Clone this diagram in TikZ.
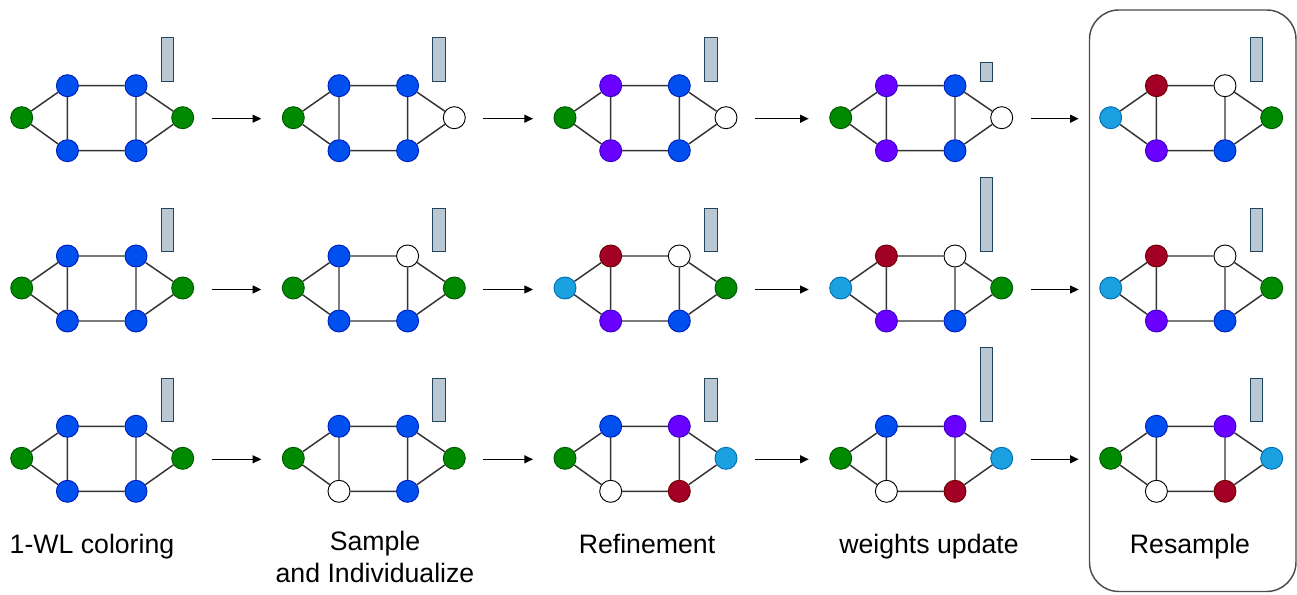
\documentclass[tikz,border=0pt]{standalone}
\usepackage{fontspec}
\setmainfont{Liberation Sans}
\usetikzlibrary{arrows.meta,calc}
\definecolor{fG}{HTML}{008A00}\definecolor{sG}{HTML}{005700}
\definecolor{fB}{HTML}{0050EF}\definecolor{sB}{HTML}{001DBC}
\definecolor{fP}{HTML}{6A00FF}\definecolor{sP}{HTML}{3700CC}
\definecolor{fR}{HTML}{A20025}\definecolor{sR}{HTML}{6F0000}
\definecolor{fC}{HTML}{1BA1E2}\definecolor{sC}{HTML}{006EAF}
\definecolor{fW}{HTML}{FFFFFF}\definecolor{sW}{HTML}{000000}
\definecolor{barfill}{HTML}{BAC8D3}\definecolor{barline}{HTML}{23445D}
\definecolor{edgecol}{HTML}{333333}\definecolor{boxcol}{HTML}{4D4D4D}
\newcommand\wlgraph[9]{%
\begin{scope}[shift={(#2)}]
\node[vert,fill=f#3,draw=s#3] (#1L) at (0,0) {};
\node[vert,fill=f#4,draw=s#4] (#1TL) at (45.7,-32) {};
\node[vert,fill=f#5,draw=s#5] (#1BL) at (45.7,33) {};
\node[vert,fill=f#6,draw=s#6] (#1TR) at (114.3,-32) {};
\node[vert,fill=f#7,draw=s#7] (#1BR) at (114.3,33) {};
\node[vert,fill=f#8,draw=s#8] (#1R) at (161,0) {};
\draw[ed] (#1L)--(#1TL) (#1L)--(#1BL) (#1TL)--(#1TR) (#1BL)--(#1BR)
  (#1TL)--(#1BL) (#1TR)--(#1BR) (#1TR)--(#1R) (#1BR)--(#1R);
\draw[barst] (139.5,-36.5) rectangle ++(12.5,-#9);
\end{scope}}
\begin{document}
\begin{tikzpicture}[x=0.75pt,y=-0.75pt,
  vert/.style={circle,minimum size=16.5pt,inner sep=0pt,line width=0.7pt},
  ed/.style={draw=edgecol,line width=1.1pt},
  barst/.style={fill=barfill,draw=barline,line width=0.7pt},
  arr/.style={-{Triangle[length=6.5pt,width=6pt]},line width=0.9pt,black},
  boxst/.style={draw=boxcol,line width=1.1pt,rounded corners=22pt},
  lab/.style={font=\fontsize{20}{24}\selectfont,inner sep=0pt,anchor=base}]
\useasboundingbox (0,0) rectangle (1297,595);
\draw[boxst] (1089.5,10) rectangle (1296,591.5);
% row 1
\wlgraph{a1}{21.7,117.7}{G}{B}{B}{B}{B}{G}{43.5}
\wlgraph{a2}{293.3,117.7}{G}{B}{B}{B}{B}{W}{43.5}
\wlgraph{a3}{565,117.7}{G}{P}{P}{B}{B}{W}{43.5}
\wlgraph{a4}{840.7,117.7}{G}{P}{P}{B}{B}{W}{19}
\wlgraph{a5}{1110.7,117.7}{C}{R}{P}{W}{B}{G}{44}
% row 2
\wlgraph{b1}{21.7,288}{G}{B}{B}{B}{B}{G}{43.5}
\wlgraph{b2}{293.3,288}{G}{B}{B}{W}{B}{G}{43.5}
\wlgraph{b3}{565,288}{C}{R}{P}{W}{B}{G}{43.5}
\wlgraph{b4}{840.7,288}{C}{R}{P}{W}{B}{G}{74}
\wlgraph{b5}{1110.7,288}{C}{R}{P}{W}{B}{G}{43.5}
% row 3
\wlgraph{c1}{21.7,458.3}{G}{B}{B}{B}{B}{G}{43.5}
\wlgraph{c2}{293.3,458.3}{G}{B}{W}{B}{B}{G}{43.5}
\wlgraph{c3}{565,458.3}{G}{B}{W}{P}{R}{C}{43.5}
\wlgraph{c4}{840.7,458.3}{G}{B}{W}{P}{R}{C}{74.5}
\wlgraph{c5}{1110.7,458.3}{G}{B}{W}{P}{R}{C}{43.5}
% arrows
\foreach \r/\dy in {a/1,b/1.5,c/1}{
  \foreach \i/\j in {1/2,2/3,3/4,4/5}{
    \draw[arr] ($(\r\i R)+(29,\dy)$) -- ($(\r\j L)+(-32,\dy)$);
  }
}
% labels
\node[lab] (t1) at (92,553) {1-WL coloring};
\node[lab,align=center] (t2) at (375,582) {Sample\\and Individualize};
\node[lab] (t3) at (647,553) {Refinement};
\node[lab] (t4) at (929,553) {weights update};
\node[lab] (t5) at (1190,553) {Resample};
\end{tikzpicture}
\end{document}
